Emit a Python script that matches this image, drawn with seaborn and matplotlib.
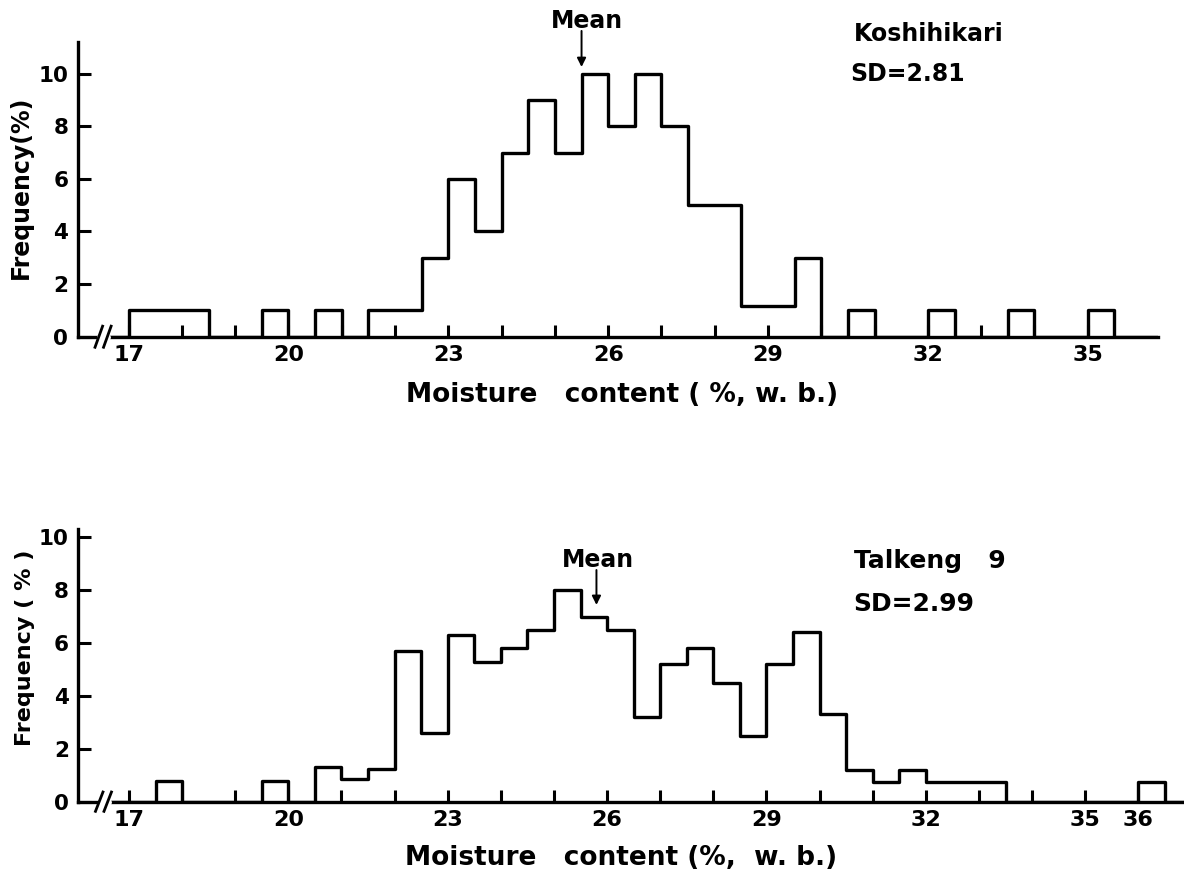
import numpy as np
import pandas as pd
import matplotlib
matplotlib.use("Agg")
import matplotlib.pyplot as plt
import seaborn as sns

# Moisture-content classes (lower bound, % w.b.) and frequency (%) per 0.5-point class
koshi_lower = [17.0, 17.5, 18.0, 19.5, 20.5, 21.5, 22.0, 22.5, 23.0, 23.5, 24.0, 24.5, 25.0,
               25.5, 26.0, 26.5, 27.0, 27.5, 28.0, 28.5, 29.0, 29.5, 30.5, 32.0, 33.5, 35.0]
koshi_freq = [1, 1, 1, 1, 1, 1, 1, 3, 6, 4, 7, 9, 7,
              10, 8, 10, 8, 5, 5, 1.15, 1.15, 3, 1, 1, 1, 1]

taik_lower = [17.5, 19.5, 20.5, 21.0, 21.5, 22.0, 22.5, 23.0, 23.5, 24.0, 24.5, 25.0, 25.5,
              26.0, 26.5, 27.0, 27.5, 28.0, 28.5, 29.0, 29.5, 30.0, 30.5, 31.0, 31.5, 32.0,
              32.5, 33.0, 36.0]
taik_freq = [0.8, 0.8, 1.3, 0.85, 1.25, 5.7, 2.6, 6.3, 5.3, 5.8, 6.5, 8.0, 7.0,
             6.5, 3.2, 5.2, 5.8, 4.5, 2.5, 5.2, 6.4, 3.3, 1.2, 0.75, 1.2, 0.75,
             0.75, 0.75, 0.75]

koshi_mean = 25.5
taik_mean = 25.8
koshi_sd = "SD=2.81"
taik_sd = "SD=2.99"

koshi_ticklabels = {17: "17", 20: "20", 23: "23", 26: "26", 29: "29", 32: "32", 35: "35"}
taik_ticklabels = {17: "17", 20: "20", 23: "23", 26: "26", 29: "29", 32: "32", 35: "35", 36: "36"}

BIN = 0.5

sns.set_theme(style="white")
plt.rcParams["font.family"] = ["DejaVu Sans"]
plt.rcParams["font.weight"] = "bold"
plt.rcParams["axes.labelweight"] = "bold"

fig = plt.figure(figsize=(11.84, 8.73), dpi=100)
ax_top = fig.add_axes([0.0659, 0.6143, 0.9122, 0.3376])
ax_bot = fig.add_axes([0.0663, 0.0817, 0.9337, 0.3120])

LW = 2.4


def draw_panel(ax, lower, freq, x_hi, edge_hi, y_hi, tick_last, ticklabels):
    df = pd.DataFrame({"mc": np.asarray(lower) + BIN / 2, "freq": freq})
    sns.histplot(data=df, x="mc", weights="freq", binwidth=BIN, binrange=(16.5, edge_hi),
                 element="step", fill=False, color="black", linewidth=LW, ax=ax)
    ax.set_xlim(16.05, x_hi)
    ax.set_ylim(0, y_hi)
    sns.despine(ax=ax)
    for s in ("left", "bottom"):
        ax.spines[s].set_linewidth(LW)
        ax.spines[s].set_color("black")
    ticks = list(range(17, tick_last + 1))
    ax.set_xticks(ticks)
    ax.set_xticklabels([ticklabels.get(t, "") for t in ticks])
    ax.set_yticks([0, 2, 4, 6, 8, 10])
    ax.set_yticklabels(["0", "2", "4", "6", "8", "10"])
    ax.tick_params(axis="both", which="major", direction="in", length=9, width=2.2,
                   colors="black", bottom=True, left=True)
    ax.tick_params(axis="x", pad=6, labelsize=16)
    ax.tick_params(axis="y", pad=7, labelsize=15.5)
    for lab in ax.get_xticklabels() + ax.get_yticklabels():
        lab.set_fontweight("bold")
    # axis break on the x axis
    yb = 0.45 * (y_hi / 11.2)
    ax.plot([16.47, 16.60], [0, 0], color="white", lw=5, zorder=5, clip_on=False)
    for xb in (16.44, 16.60):
        ax.plot([xb - 0.08, xb + 0.08], [-yb, yb], color="black", lw=2.0,
                zorder=6, clip_on=False, solid_capstyle="butt")


draw_panel(ax_top, koshi_lower, koshi_freq, 36.32, 36.5, 11.2, 35, koshi_ticklabels)
draw_panel(ax_bot, taik_lower, taik_freq, 36.86, 37.0, 10.3, 36, taik_ticklabels)

# axis titles
ax_top.set_ylabel("Frequency(%)", fontsize=17, fontweight="bold", color="black")
ax_top.yaxis.set_label_coords(-0.0528, 0.506)
ax_top.yaxis.label.set_verticalalignment("center")
ax_bot.set_ylabel("Frequency ( % )", fontsize=16, fontweight="bold", color="black")
ax_bot.yaxis.set_label_coords(-0.0484, 0.564)
ax_bot.yaxis.label.set_verticalalignment("center")

ax_top.set_xlabel("Moisture   content ( %, w. b.)", fontsize=19, fontweight="bold", color="black")
ax_top.xaxis.set_label_coords(0.504, -0.2206)
ax_top.xaxis.label.set_verticalalignment("baseline")
ax_bot.set_xlabel("Moisture   content (%,  w. b.)", fontsize=19, fontweight="bold", color="black")
ax_bot.xaxis.set_label_coords(0.491, -0.2324)
ax_bot.xaxis.label.set_verticalalignment("baseline")

# mean markers
arrow_kw = dict(arrowstyle="-|>", color="black", lw=1.4, mutation_scale=13,
                shrinkA=0, shrinkB=0)
ax_top.text(koshi_mean + 0.1, 11.74, "Mean", fontsize=17, fontweight="bold",
            ha="center", va="baseline", color="black")
ax_top.annotate("", xy=(koshi_mean, 10.25), xytext=(koshi_mean, 11.62),
                arrowprops=arrow_kw, annotation_clip=False)
ax_bot.text(taik_mean + 0.03, 8.89, "Mean", fontsize=17, fontweight="bold",
            ha="center", va="baseline", color="black")
ax_bot.annotate("", xy=(taik_mean, 7.44), xytext=(taik_mean, 8.76),
                arrowprops=arrow_kw, annotation_clip=False)

# variety and spread
ax_top.text(30.62, 11.22, "Koshihikari", fontsize=17, fontweight="bold",
            ha="left", va="baseline", color="black")
ax_top.text(30.55, 9.7, koshi_sd, fontsize=17, fontweight="bold",
            ha="left", va="baseline", color="black")
ax_bot.text(30.64, 8.85, "Talkeng   9", fontsize=18, fontweight="bold",
            ha="left", va="baseline", color="black")
ax_bot.text(30.64, 7.22, taik_sd, fontsize=18, fontweight="bold",
            ha="left", va="baseline", color="black")

fig.savefig("out.png", dpi=100, facecolor="white")
